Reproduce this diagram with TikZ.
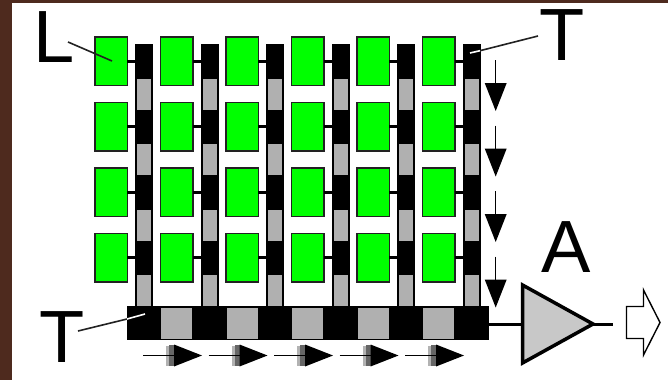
\documentclass[tikz,border=0pt]{standalone}
\usepackage{fontspec}
\setmainfont{Liberation Sans}
\definecolor{frame}{HTML}{4E2A1E}
\definecolor{cellgreen}{HTML}{00FF00}
\definecolor{tftgray}{HTML}{B0B0B0}
\definecolor{ampgray}{HTML}{C8C8C8}
\definecolor{edgedark}{HTML}{222222}
\usetikzlibrary{calc}
\tikzset{
  x=1pt,y=-1pt,
  cell/.style={draw=edgedark,line width=1.5pt,fill=cellgreen,minimum width=32.5pt,minimum height=48.5pt,inner sep=0pt,outer sep=0pt},
  stripbar/.style={draw=none,fill=black,minimum width=18pt,inner sep=0pt,outer sep=0pt},
  graypad/.style={draw=none,fill=tftgray,inner sep=0pt,outer sep=0pt},
  wirelink/.style={draw=black,line width=3pt},
  leaderline/.style={line width=1.6pt,draw=edgedark},
  leaderlight/.style={line width=1.6pt,draw=white},
  flowline/.style={line width=1.5pt,draw=black},
  flowhead/.style={fill=black,draw=none},
  bigletter/.style={font=\fontsize{74}{74}\selectfont,inner sep=0pt,outer sep=0pt,text=black},
}
\begin{document}
\begin{tikzpicture}
\useasboundingbox (0,0) rectangle (668,380);
\fill[white] (0,0) rectangle (668,380);
\fill[frame] (0,0) rectangle (668,3);
\fill[frame] (0,0) rectangle (12,380);

% connectors and vertical strips
\foreach \i in {0,...,5}{
  \pgfmathsetmacro{\sx}{144+65.5*\i}
  \node[stripbar,minimum height=263pt] (strip\i) at (\sx,175) {};
  \foreach \j in {0,...,3}{
    \pgfmathsetmacro{\bx}{111+65.5*\i}
    \pgfmathsetmacro{\by}{61+65.5*\j}
    \node[cell] (cell\i\j) at (\bx,\by) {};
    \draw[wirelink] (cell\i\j.east) -- (cell\i\j.east -| strip\i.west);
    \pgfmathsetmacro{\gy}{94+65.5*\j}
    \node[graypad,minimum width=14pt,minimum height=31pt] (pad\i\j) at (\sx,\gy) {};
  }
}

% horizontal bar
\node[fill=black,draw=none,inner sep=0pt,outer sep=0pt,minimum width=362pt,minimum height=34pt] (hbar) at (308,323) {};
\foreach \i in {0,...,4}{
  \pgfmathsetmacro{\px}{176.5+65.5*\i}
  \node[graypad,minimum width=31pt,minimum height=31pt] (hpad\i) at (\px,323) {};
}

% vertical flow arrows
\foreach \j in {0,...,3}{
  \pgfmathsetmacro{\a}{60+65.5*\j}
  \pgfmathsetmacro{\b}{83+65.5*\j}
  \pgfmathsetmacro{\c}{111+65.5*\j}
  \coordinate (vs\j) at (495.7,\a);
  \coordinate (vh\j) at (495.7,\b);
  \coordinate (vt\j) at (495.7,\c);
  \draw[flowline] (vs\j) -- (vh\j);
  \fill[flowhead] ($(vh\j)+(-11,0)$) -- ($(vh\j)+(11,0)$) -- (vt\j) -- cycle;
}

% horizontal flow arrows
\foreach \i in {0,...,4}{
  \pgfmathsetmacro{\a}{143+65.5*\i}
  \pgfmathsetmacro{\b}{174+65.5*\i}
  \pgfmathsetmacro{\c}{202+65.5*\i}
  \coordinate (hs\i) at (\a,355.5);
  \coordinate (hh\i) at (\b,355.5);
  \coordinate (ht\i) at (\c,355.5);
  \fill[black!30] ($(hh\i)+(-8,-10)$) rectangle ($(hh\i)+(-5,10)$);
  \fill[black!60] ($(hh\i)+(-5,-10.5)$) rectangle ($(hh\i)+(0.5,10.5)$);
  \draw[flowline] (hs\i) -- (hh\i);
  \fill[flowhead] ($(hh\i)+(0,-11)$) -- (ht\i) -- ($(hh\i)+(0,11)$) -- cycle;
}

% amplifier
\coordinate (ampL) at (522.5,324);
\coordinate (ampT) at (593,324);
\coordinate (ampOut) at (613,324);
\draw[line width=3pt,draw=black] (hbar.east |- ampL) -- (ampL);
\draw[line width=3pt,draw=black] (ampT) -- (ampOut);
\draw[line width=3.5pt,draw=black,fill=ampgray,line join=miter]
  (522.5,285) -- (ampT) -- (522.5,363) -- cycle;

% hollow output arrow
\draw[line width=1.4pt,draw=black,fill=white,line join=miter]
  (626.5,306.5) -- (643.5,306.5) -- (643.5,290) -- (660,322.5) -- (643.5,355) -- (643.5,338.5) -- (626.5,338.5) -- cycle;

% letters
\node[bigletter,anchor=base west] (letterL) at (33,62) {L};
\node[bigletter,anchor=base west] (letterT) at (539,60) {T};
\node[bigletter,anchor=base west] (letterTb) at (39,362) {T};
\node[bigletter,anchor=base west] (letterA) at (541,272) {A};

% leaders
\coordinate (leadLs) at (68,42);
\coordinate (leadLe) at (112,61);
\draw[leaderline] (leadLs) -- (leadLe);
\coordinate (leadTs) at (538,36);
\coordinate (leadTm) at (480,50.7);
\coordinate (leadTe) at (470,53);
\draw[leaderline] (leadTs) -- (leadTm);
\draw[leaderlight] (leadTm) -- (leadTe);
\coordinate (leadBs) at (78,331);
\coordinate (leadBm) at (127,319);
\coordinate (leadBe) at (145,314);
\draw[leaderline] (leadBs) -- (leadBm);
\draw[leaderlight] (leadBm) -- (leadBe);
\end{tikzpicture}
\end{document}
